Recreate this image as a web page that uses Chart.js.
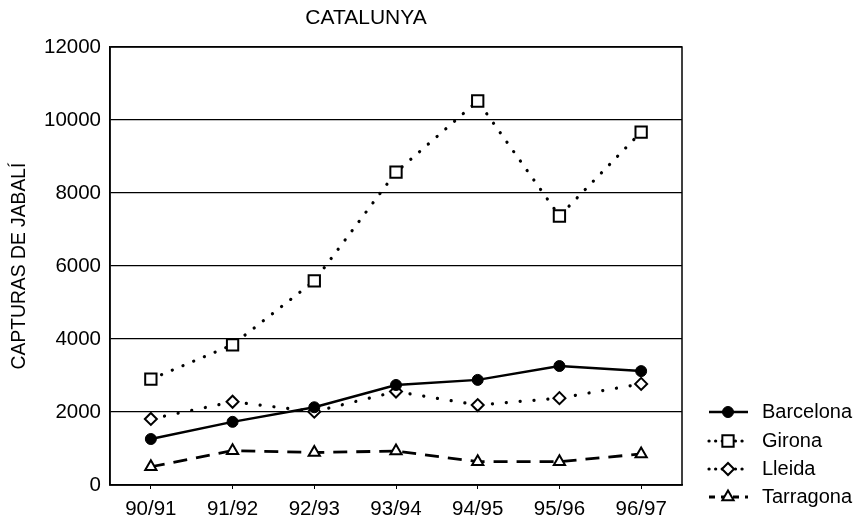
<!DOCTYPE html>
<html>
<head>
<meta charset="utf-8">
<script src="https://cdn.jsdelivr.net/npm/chart.js@4/dist/chart.umd.min.js"></script>
<style>
  html, body { margin:0; padding:0; background:#fff; }
  #wrap { width:858px; height:519px; }
</style>
</head>
<body>
<div id="wrap"><canvas id="catChart" width="858" height="519"></canvas></div>
<script>

const seasons = ["90/91","91/92","92/93","93/94","94/95","95/96","96/97"]

const barcelona = [1260,1730,2130,2740,2880,3260,3120]
const girona = [2900,3840,5590,8570,10520,7370,9670]
const lleida = [1810,2280,2010,2560,2190,2380,2770]
const tarragona = [500,940,890,930,640,640,850]

const yTicks = [0,2000,4000,6000,8000,10000,12000]

const FONT = "'Liberation Sans', Arial, sans-serif"

// title, frame and legend drawn by hand like the scanned figure
const extras = {
    id:"extras",
    afterDraw(chart){
        const ctx = chart.ctx
        const a = chart.chartArea
        ctx.save()
        ctx.strokeStyle = "#000"
        ctx.lineWidth = 1.5
        ctx.strokeRect(a.left, a.top, a.right - a.left, a.bottom - a.top)

        ctx.fillStyle = "#000"
        ctx.font = "21px " + FONT
        ctx.textAlign = "center"
        ctx.textBaseline = "middle"
        ctx.fillText("CATALUNYA", 366, 18)

        const rows = [412, 441, 469, 497]
        chart.data.datasets.forEach((ds, i) => {
            const y = rows[i]
            ctx.save()
            ctx.strokeStyle = "#000"
            ctx.lineWidth = ds.borderWidth
            ctx.lineCap = ds.borderCapStyle || "butt"
            ctx.setLineDash(ds.legendDash || [])
            ctx.beginPath()
            ctx.moveTo(709, y)
            ctx.lineTo(748, y)
            ctx.stroke()
            ctx.restore()
            ctx.save()
            ctx.lineWidth = ds.pointBorderWidth
            ctx.strokeStyle = "#000"
            ctx.fillStyle = ds.pointBackgroundColor
            Chart.helpers.drawPoint(ctx, {
                pointStyle: ds.pointStyle,
                radius: ds.pointRadius,
                borderWidth: ds.pointBorderWidth,
                rotation: 0
            }, 728, y)
            ctx.restore()
            ctx.fillStyle = "#000"
            ctx.font = "20px " + FONT
            ctx.textAlign = "left"
            ctx.textBaseline = "middle"
            ctx.fillText(ds.label, 762, y)
        })
        ctx.restore()
    }
}

new Chart(
    document.getElementById("catChart"),
    {
        type:"line",

        data:{
            labels:seasons,
            datasets:[
                {
                    label:"Barcelona",
                    data:barcelona,
                    borderColor:"#000",
                    borderWidth:2.5,
                    pointStyle:"circle",
                    pointRadius:5.5,
                    pointBackgroundColor:"#000",
                    pointBorderColor:"#000",
                    pointBorderWidth:1,
                    tension:0
                },
                {
                    label:"Girona",
                    data:girona,
                    borderColor:"#000",
                    borderWidth:3.2,
                    borderCapStyle:"round",
                    borderDash:[0.1,11.5],
                    legendDash:[0.1,6.5],
                    pointStyle:"rect",
                    pointRadius:8,
                    pointBackgroundColor:"#fff",
                    pointBorderColor:"#000",
                    pointBorderWidth:2,
                    tension:0
                },
                {
                    label:"Lleida",
                    data:lleida,
                    borderColor:"#000",
                    borderWidth:3.2,
                    borderCapStyle:"round",
                    borderDash:[0.1,13.8],
                    legendDash:[0.1,6.5],
                    pointStyle:"rectRot",
                    pointRadius:6,
                    pointBackgroundColor:"#fff",
                    pointBorderColor:"#000",
                    pointBorderWidth:2,
                    tension:0
                },
                {
                    label:"Tarragona",
                    data:tarragona,
                    borderColor:"#000",
                    borderWidth:2.8,
                    borderDash:[14,9],
                    legendDash:[6,6],
                    pointStyle:"triangle",
                    pointRadius:6.5,
                    pointBackgroundColor:"#fff",
                    pointBorderColor:"#000",
                    pointBorderWidth:2,
                    tension:0
                }
            ]
        },

        options:{
            responsive:false,
            animation:false,
            layout:{
                padding:{ top:47, right:176, bottom:0, left:0 }
            },
            plugins:{
                legend:{ display:false },
                tooltip:{ enabled:false }
            },
            scales:{
                x:{
                    offset:true,
                    grid:{
                        offset:false,
                        drawOnChartArea:false,
                        drawTicks:true,
                        tickLength:4,
                        color:"#000"
                    },
                    border:{ color:"#000", width:1.5 },
                    ticks:{
                        color:"#000",
                        padding:8,
                        font:{ family:FONT, size:20.5 }
                    },
                    afterFit(scale){ scale.height = 34 }
                },
                y:{
                    min:0,
                    max:12000,
                    afterBuildTicks(scale){
                        scale.ticks = yTicks.map(v => ({ value:v }))
                    },
                    grid:{
                        color:"#000",
                        lineWidth:1.3,
                        drawTicks:false
                    },
                    border:{ color:"#000", width:1.5 },
                    ticks:{
                        color:"#000",
                        padding:9,
                        font:{ family:FONT, size:20.5 },
                        callback:(v) => String(v)
                    },
                    title:{
                        display:true,
                        text:"CAPTURAS DE JABALÍ",
                        color:"#000",
                        padding:{ top:8, bottom:0 },
                        font:{ family:FONT, size:19.3 }
                    },
                    afterFit(scale){ scale.width = 110 }
                }
            }
        },

        plugins:[extras]
    }
)
</script>
</body>
</html>
